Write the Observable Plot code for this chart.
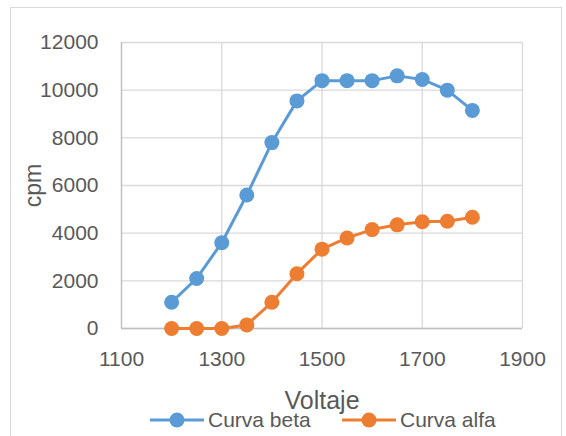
<!DOCTYPE html>
<html>
<head>
<meta charset="utf-8">
<script src="https://cdn.jsdelivr.net/npm/d3@7"></script>
<script src="https://cdn.jsdelivr.net/npm/@observablehq/plot@0.6"></script>
<style>
  html, body { margin: 0; padding: 0; background: #fff; overflow: hidden; }
  #wrap { position: relative; width: 566px; height: 436px; font-family: "Liberation Sans", Arial, sans-serif; }
  #frame { position: absolute; left: 10px; top: 7px; width: 552px; height: 450px; border: 1px solid #d9d9d9; box-sizing: border-box; }
  #chart { position: absolute; left: 0; top: 0; }
  #legend { position: absolute; left: 0; top: 407px; width: 566px; font-size: 21px; color: #595959; }
  .item { display: flex; align-items: center; position: absolute; top: 0; }
  .item svg { display: block; }
</style>
</head>
<body>
<div id="wrap">
  <div id="frame"></div>
  <div id="chart"></div>
  <div id="legend"></div>
</div>
<script>
const voltages = [1200, 1250, 1300, 1350, 1400, 1450, 1500, 1550, 1600, 1650, 1700, 1750, 1800];
const beta = [1100, 2100, 3600, 5600, 7800, 9550, 10400, 10400, 10400, 10600, 10450, 10000, 9150];
const alfa = [0, 0, 0, 150, 1100, 2300, 3330, 3800, 4150, 4350, 4480, 4500, 4670];
const seriesNames = ["Curva beta", "Curva alfa"];
const seriesColors = ["#5b9bd5", "#ed7d31"];
const xTicks = [1100, 1300, 1500, 1700, 1900];
const yTicks = [0, 2000, 4000, 6000, 8000, 10000, 12000];

const data = [];
voltages.forEach((v, i) => data.push({v, cpm: beta[i], s: seriesNames[0]}));
voltages.forEach((v, i) => data.push({v, cpm: alfa[i], s: seriesNames[1]}));

const chart = Plot.plot({
  width: 566,
  height: 410,
  marginLeft: 121,
  marginRight: 44,
  marginTop: 42,
  marginBottom: 82,
  style: { fontFamily: "Liberation Sans, Arial, sans-serif", color: "#595959", background: "transparent", overflow: "visible" },
  x: { domain: [1100, 1900] },
  y: { domain: [0, 12000] },
  color: { domain: seriesNames, range: seriesColors },
  marks: [
    Plot.gridY(yTicks, { stroke: "#d9d9d9", strokeOpacity: 1, strokeWidth: 1.3 }),
    Plot.gridX(xTicks, { stroke: "#d9d9d9", strokeOpacity: 1, strokeWidth: 1.3 }),
    Plot.ruleY([0], { stroke: "#bfbfbf", strokeWidth: 1.3 }),
    Plot.ruleX([1100], { stroke: "#bfbfbf", strokeWidth: 1.3 }),
    Plot.axisY(yTicks, { tickSize: 0, tickPadding: 23, fontSize: 21, label: null, tickFormat: d => String(d) }),
    Plot.axisX(xTicks, { tickSize: 0, tickPadding: 23, fontSize: 21, label: null, tickFormat: d => String(d) }),
    Plot.axisY({ ticks: [], label: "cpm", labelAnchor: "center", labelOffset: 97, labelArrow: "none", fontSize: 23 }),
    Plot.axisX({ ticks: [], label: "Voltaje", labelAnchor: "center", labelOffset: 80, labelArrow: "none", fontSize: 25 }),
    Plot.line(data, { x: "v", y: "cpm", z: "s", stroke: "s", strokeWidth: 3 }),
    Plot.dot(data, { x: "v", y: "cpm", fill: "s", r: 7.5 })
  ]
});
document.getElementById("chart").appendChild(chart);

// legend
const legend = document.getElementById("legend");
const legendLeft = [150, 342];
seriesNames.forEach((name, i) => {
  const item = document.createElement("div");
  item.className = "item";
  item.style.left = legendLeft[i] + "px";
  const sw = d3.create("svg").attr("width", 55).attr("height", 26);
  sw.append("line").attr("x1", 0).attr("x2", 54).attr("y1", 13).attr("y2", 13).attr("stroke", seriesColors[i]).attr("stroke-width", 3);
  sw.append("circle").attr("cx", 27).attr("cy", 13).attr("r", 7.5).attr("fill", seriesColors[i]);
  item.appendChild(sw.node());
  const t = document.createElement("span");
  t.textContent = name;
  t.style.marginLeft = "3px";
  item.appendChild(t);
  legend.appendChild(item);
});
</script>
</body>
</html>
